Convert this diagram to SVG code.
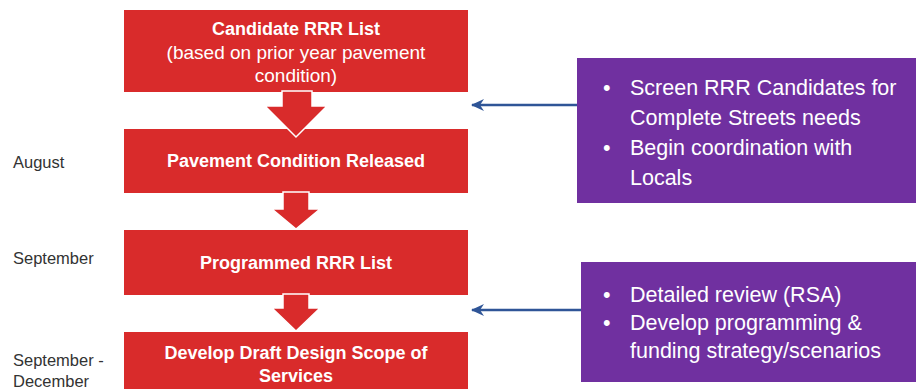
<svg xmlns="http://www.w3.org/2000/svg" width="916" height="389" viewBox="0 0 916 389">
<defs>
<style>
.box{fill:#D92B2B;}
.flow{fill:#D92B2B;stroke:#ffffff;stroke-width:1.5;}
.t{font-family:"Liberation Sans",Arial,sans-serif;fill:#ffffff;text-anchor:middle;}
.tb{font-weight:bold;font-size:18px;}
.tn{font-size:19px;}
.p{fill:#7030A0;}
.pt{font-family:"Liberation Sans",Arial,sans-serif;fill:#ffffff;font-size:21.5px;}
.lbl{font-family:"Liberation Sans",Arial,sans-serif;fill:#333333;font-size:16.5px;}
.conn{stroke:#2F5597;stroke-width:2.5;fill:none;}
</style>
<marker id="ah" markerWidth="13" markerHeight="12" refX="12" refY="6" orient="auto" markerUnits="userSpaceOnUse">
<path d="M0,0 L13,6 L0,12 L4,6 Z" fill="#2F5597"/>
</marker>
</defs>
<rect width="916" height="389" fill="#ffffff"/>

<g id="labels">
<text class="lbl" x="13" y="168">August</text>
<text class="lbl" x="13" y="264">September</text>
<text class="lbl" x="13" y="366">September -</text>
<text class="lbl" x="13" y="387">December</text>
</g>

<g id="node-candidate">
<rect class="box" x="124" y="10" width="344" height="82"/>
<text class="t tb" x="296" y="35">Candidate RRR List</text>
<text class="t tn" x="296" y="59">(based on prior year pavement</text>
<text class="t tn" x="296" y="82">condition)</text>
</g>

<g id="node-pavement">
<rect class="box" x="124" y="129" width="344" height="64"/>
<text class="t tb" x="296" y="167">Pavement Condition Released</text>
</g>

<g id="node-programmed">
<rect class="box" x="124" y="230" width="344" height="65"/>
<text class="t tb" x="296" y="269">Programmed RRR List</text>
</g>

<g id="node-develop">
<rect class="box" x="124" y="332" width="344" height="60"/>
<text class="t tb" x="296" y="359">Develop Draft Design Scope of</text>
<text class="t tb" x="296" y="382">Services</text>
</g>

<g id="node-screen">
<rect class="p" x="577" y="58" width="339" height="145"/>
<text class="pt" x="603" y="95">•</text>
<text class="pt" x="630" y="95">Screen RRR Candidates for</text>
<text class="pt" x="630" y="125">Complete Streets needs</text>
<text class="pt" x="603" y="155">•</text>
<text class="pt" x="630" y="155">Begin coordination with</text>
<text class="pt" x="630" y="185">Locals</text>
</g>

<g id="node-review">
<rect class="p" x="581" y="262" width="335" height="120"/>
<text class="pt" x="603" y="302">•</text>
<text class="pt" x="630" y="302">Detailed review (RSA)</text>
<text class="pt" x="603" y="330">•</text>
<text class="pt" x="630" y="330">Develop programming &amp;</text>
<text class="pt" x="630" y="358">funding strategy/scenarios</text>
</g>

<g id="connectors">
<polygon class="flow" points="282,91 312,91 312,106 327,106 296,137 265,106 282,106"/>
<polygon class="flow" points="283,192 309,192 309,209 320,209 296,229 272,209 283,209"/>
<polygon class="flow" points="283,294 309,294 309,308 320,308 296,331 272,308 283,308"/>
<line class="conn" x1="577" y1="105" x2="472" y2="105" marker-end="url(#ah)"/>
<line class="conn" x1="581" y1="310" x2="472" y2="310" marker-end="url(#ah)"/>
</g>
</svg>
